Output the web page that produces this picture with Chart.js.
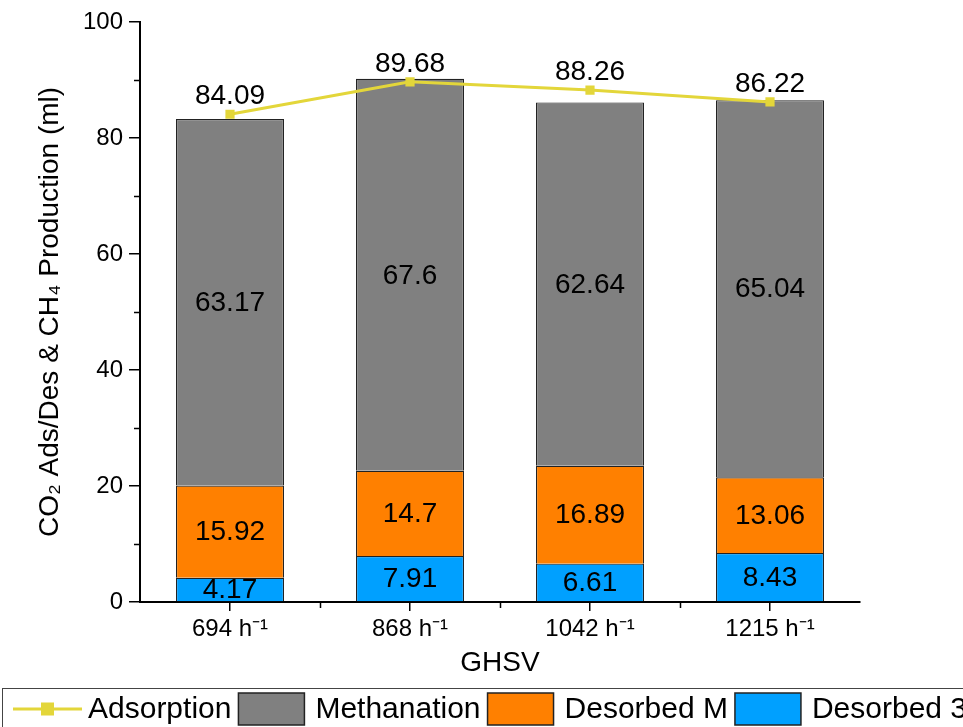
<!DOCTYPE html>
<html>
<head>
<meta charset="utf-8">
<script src="https://cdn.jsdelivr.net/npm/chart.js@4/dist/chart.umd.min.js"></script>
<style>
  html, body { margin: 0; padding: 0; background: #fff; overflow: hidden; }
  #wrap { width: 963px; height: 727px; }
</style>
</head>
<body>
<div id="wrap"><canvas id="c" width="963" height="727"></canvas></div>
<script>
// GHSV categories and measured volumes (ml)
const categories = ['694 h⁻¹', '868 h⁻¹', '1042 h⁻¹', '1215 h⁻¹'];
const adsorption = [84.09, 89.68, 88.26, 86.22];
const methanation = [63.17, 67.6, 62.64, 65.04];
const desorbedM = [15.92, 14.7, 16.89, 13.06];
const desorbed3 = [4.17, 7.91, 6.61, 8.43];
const yTicks = [0, 20, 40, 60, 80, 100];
const yMinorTicks = [10, 30, 50, 70, 90];

const FONT = '"Liberation Sans", Arial, sans-serif';
const YELLOW = '#e3d63a';

// value labels: centred in each bar segment, above each line point
const valueLabels = {
  id: 'valueLabels',
  afterDatasetsDraw(chart) {
    const ctx = chart.ctx;
    ctx.save();
    ctx.fillStyle = '#000';
    ctx.textAlign = 'center';
    ctx.textBaseline = 'middle';
    ctx.font = '28px ' + FONT;
    chart.data.datasets.forEach((ds, i) => {
      const meta = chart.getDatasetMeta(i);
      meta.data.forEach((el, j) => {
        const v = ds.data[j];
        if (ds.type === 'line') {
          ctx.fillText(String(v), el.x, el.y - 18);
        } else {
          ctx.fillText(String(v), el.x, (el.y + el.base) / 2 + 1);
        }
      });
    });
    ctx.restore();
  }
};

// minor tick marks on both axes
const minorTicks = {
  id: 'minorTicks',
  afterDraw(chart) {
    const ctx = chart.ctx;
    const y = chart.scales.y, x = chart.scales.x;
    ctx.save();
    ctx.strokeStyle = '#000';
    ctx.lineWidth = 1.5;
    ctx.beginPath();
    yMinorTicks.forEach(v => {
      const py = Math.round(y.getPixelForValue(v)) + 0.5;
      ctx.moveTo(y.right - 6, py);
      ctx.lineTo(y.right, py);
    });
    for (let i = 0; i < categories.length - 1; i++) {
      const px = Math.round((x.getPixelForTick(i) + x.getPixelForTick(i + 1)) / 2) + 0.5;
      ctx.moveTo(px, x.top);
      ctx.lineTo(px, x.top + 6);
    }
    ctx.stroke();
    ctx.restore();
  }
};

// boxed legend along the bottom edge: line series first, then bars top to bottom
const legendOrder = [0, 3, 2, 1];
const bottomLegend = {
  id: 'bottomLegend',
  afterDraw(chart) {
    const ctx = chart.ctx;
    const cy = 709;
    ctx.save();
    ctx.strokeStyle = '#444';
    ctx.lineWidth = 1;
    ctx.strokeRect(2.5, 688.5, 1000, 60);
    ctx.font = '30px ' + FONT;
    ctx.textBaseline = 'middle';
    ctx.textAlign = 'left';
    let x = 13;
    legendOrder.forEach(i => {
      const ds = chart.data.datasets[i];
      if (ds.type === 'line') {
        ctx.strokeStyle = ds.borderColor;
        ctx.lineWidth = 3;
        ctx.beginPath();
        ctx.moveTo(x, cy); ctx.lineTo(x + 69, cy);
        ctx.stroke();
        ctx.fillStyle = ds.pointBackgroundColor;
        ctx.fillRect(x + 28, cy - 6.5, 13, 13);
        x += 75;
      } else {
        ctx.fillStyle = ds.backgroundColor;
        ctx.fillRect(x, 693, 66, 32);
        ctx.strokeStyle = '#222';
        ctx.lineWidth = 1.5;
        ctx.strokeRect(x, 693, 66, 32);
        x += 77;
      }
      ctx.fillStyle = '#000';
      ctx.fillText(ds.label, x, cy + 1);
      x += ctx.measureText(ds.label).width + 7;
    });
    ctx.restore();
  }
};

new Chart(document.getElementById('c'), {
  data: {
    labels: categories,
    datasets: [
      {
        type: 'line', label: 'Adsorption', data: adsorption, stack: 'ads', order: 0,
        borderColor: YELLOW, borderWidth: 3, pointStyle: 'rect', pointRadius: 6.5,
        pointBackgroundColor: YELLOW, pointBorderColor: YELLOW, pointBorderWidth: 0
      },
      {
        type: 'bar', label: 'Desorbed 3', data: desorbed3, stack: 'bars', order: 1,
        backgroundColor: '#00a0ff', borderColor: '#222', borderWidth: 1.2
      },
      {
        type: 'bar', label: 'Desorbed M', data: desorbedM, stack: 'bars', order: 1,
        backgroundColor: '#ff8000', borderColor: '#222', borderWidth: 1.2
      },
      {
        type: 'bar', label: 'Methanation', data: methanation, stack: 'bars', order: 1,
        backgroundColor: '#808080', borderColor: '#222', borderWidth: 1.2
      }
    ]
  },
  options: {
    responsive: false,
    animation: false,
    devicePixelRatio: 1,
    layout: { padding: { top: 22, right: 103, bottom: 0, left: 0 } },
    datasets: { bar: { categoryPercentage: 1, barPercentage: 0.6 } },
    plugins: { legend: { display: false }, tooltip: { enabled: false } },
    scales: {
      x: {
        stacked: true,
        afterFit(s) { s.height = 125; },
        border: { color: '#000', width: 2 },
        grid: { drawOnChartArea: false, offset: false, tickLength: 9, color: '#000', lineWidth: 1.5 },
        ticks: { color: '#000', padding: 4, font: { family: FONT, size: 24 }, maxRotation: 0 },
        title: { display: true, text: 'GHSV', color: '#000', font: { family: FONT, size: 28 }, padding: { top: 0, bottom: 47 } }
      },
      y: {
        stacked: true,
        min: 0, max: 100,
        afterFit(s) { s.width = 140; },
        afterBuildTicks(s) { s.ticks = yTicks.map(v => ({ value: v })); },
        border: { color: '#000', width: 2 },
        grid: { drawOnChartArea: false, tickLength: 11, color: '#000', lineWidth: 1.5 },
        ticks: { color: '#000', padding: 6, font: { family: FONT, size: 24 } },
        title: { display: true, text: 'CO₂ Ads/Des & CH₄ Production (ml)', color: '#000', font: { family: FONT, size: 28 }, padding: { top: 33, bottom: 0 } }
      }
    }
  },
  plugins: [valueLabels, minorTicks, bottomLegend]
});
</script>
</body>
</html>
